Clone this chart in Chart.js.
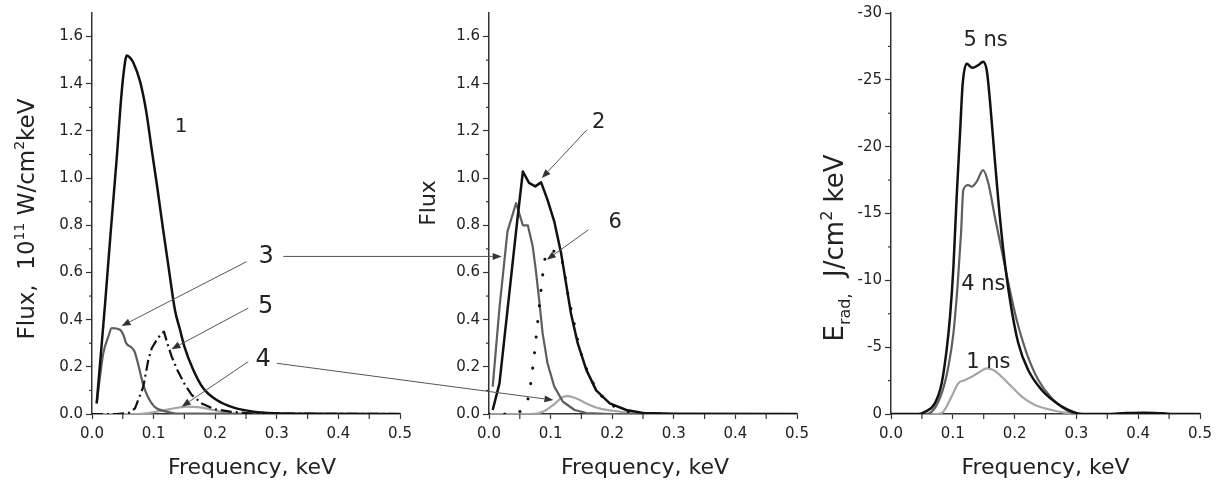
<!DOCTYPE html>
<html><head><meta charset="utf-8">
<script src="https://cdn.jsdelivr.net/npm/chart.js@4.4.1/dist/chart.umd.min.js"></script>
<style>
html,body{margin:0;padding:0;background:#fff;}
#wrap{position:relative;width:1218px;height:486px;overflow:hidden;background:#fff;}
#wrap canvas{position:absolute;top:0;}
</style></head><body><div id="wrap">
<canvas id="c1" width="425" height="486" style="left:0px"></canvas>
<canvas id="c2" width="417" height="486" style="left:405px"></canvas>
<canvas id="c3" width="408" height="486" style="left:810px"></canvas>
<canvas id="ov" width="1218" height="486" style="left:0px;pointer-events:none"></canvas>
</div>
<script>
// ---------- tick labels ----------
const xTicks = [0, 0.1, 0.2, 0.3, 0.4, 0.5];
const xMinor = [0.05, 0.15, 0.25, 0.35, 0.45];
const fluxTicks = [0, 0.2, 0.4, 0.6, 0.8, 1.0, 1.2, 1.4, 1.6];
const fluxMinor = [0.1, 0.3, 0.5, 0.7, 0.9, 1.1, 1.3, 1.5];
const eTicks = [0, -5, -10, -15, -20, -25, -30];
const eMinor = [-2.5, -7.5, -12.5, -17.5, -22.5, -27.5];

// ---------- panel 1 (Flux, 10^11 W/cm2 keV) ----------
const c1X = [0.0076, 0.021, 0.03, 0.04, 0.0476, 0.052, 0.0565, 0.062, 0.067, 0.078, 0.088, 0.097, 0.106, 0.115, 0.125, 0.1347, 0.1429, 0.150, 0.1645, 0.1807, 0.2024, 0.229, 0.262, 0.30, 0.35, 0.5];
const c1Y = [0.045, 0.46, 0.76, 1.08, 1.347, 1.46, 1.52, 1.51, 1.49, 1.41, 1.283, 1.12, 0.96, 0.79, 0.61, 0.44, 0.357, 0.286, 0.187, 0.109, 0.059, 0.028, 0.01, 0.003, 0.001, 0];
const c3X = [0.0076, 0.0184, 0.0265, 0.032, 0.0455, 0.051, 0.0555, 0.0636, 0.069, 0.076, 0.0825, 0.0906, 0.1015, 0.121, 0.136, 0.5];
const c3Y = [0.045, 0.258, 0.328, 0.364, 0.357, 0.335, 0.30, 0.283, 0.265, 0.20, 0.13, 0.073, 0.031, 0.01, 0.002, 0];
const c5X = [0, 0.04, 0.06, 0.0698, 0.0833, 0.0914, 0.097, 0.105, 0.113, 0.1169, 0.1222, 0.1294, 0.1385, 0.151, 0.1618, 0.178, 0.1997, 0.224, 0.26, 0.5];
const c5Y = [0, 0, 0.005, 0.024, 0.116, 0.229, 0.279, 0.314, 0.342, 0.349, 0.30, 0.243, 0.187, 0.123, 0.081, 0.045, 0.02, 0.01, 0.002, 0];
const c4X = [0, 0.075, 0.105, 0.1266, 0.1537, 0.1753, 0.197, 0.219, 0.25, 0.5];
const c4Y = [0, 0, 0.01, 0.021, 0.031, 0.028, 0.017, 0.004, 0, 0];

// ---------- panel 2 (Flux) ----------
const d2X = [0.006, 0.017, 0.03, 0.045, 0.055, 0.065, 0.075, 0.0846, 0.095, 0.106, 0.117, 0.125, 0.133, 0.144, 0.158, 0.174, 0.196, 0.223, 0.25, 0.3, 0.5];
const d2Y = [0.017, 0.13, 0.44, 0.80, 1.028, 0.98, 0.965, 0.982, 0.908, 0.816, 0.682, 0.555, 0.427, 0.30, 0.187, 0.10, 0.045, 0.017, 0.004, 0.001, 0];
const d3X = [0.006, 0.017, 0.030, 0.044, 0.055, 0.063, 0.071, 0.076, 0.082, 0.087, 0.095, 0.106, 0.12, 0.139, 0.158, 0.2, 0.5];
const d3Y = [0.116, 0.45, 0.774, 0.894, 0.80, 0.80, 0.71, 0.61, 0.47, 0.343, 0.215, 0.116, 0.052, 0.017, 0.004, 0, 0];
const d4X = [0, 0.06, 0.08, 0.093, 0.104, 0.12, 0.128, 0.141, 0.158, 0.179, 0.212, 0.23, 0.26, 0.5];
const d4Y = [0, 0, 0.003, 0.017, 0.038, 0.072, 0.076, 0.067, 0.045, 0.024, 0.01, 0.004, 0, 0];
const d6X = [0, 0.03, 0.05, 0.058, 0.065, 0.072, 0.0776, 0.083, 0.089, 0.094, 0.105, 0.115, 0.1225, 0.126, 0.137, 0.148, 0.168, 0.186, 0.21, 0.24, 0.3];
const d6Y = [0, 0, 0.01, 0.03, 0.083, 0.218, 0.352, 0.49, 0.625, 0.69, 0.69, 0.675, 0.604, 0.538, 0.40, 0.27, 0.137, 0.067, 0.024, 0.005, 0];

// ---------- panel 3 (E_rad, J/cm2 keV) ----------
const e5X = [0, 0.045, 0.055, 0.071, 0.082, 0.090, 0.0955, 0.101, 0.106, 0.1117, 0.116, 0.1225, 0.1316, 0.1413, 0.149, 0.155, 0.160, 0.1667, 0.1736, 0.1817, 0.1926, 0.206, 0.222, 0.2438, 0.265, 0.285, 0.31, 0.35, 0.38, 0.41, 0.44, 0.46, 0.5];
const e5Y = [0, 0, -0.17, -0.8, -2.3, -4.79, -7.28, -11.0, -16.0, -21.0, -24.7, -26.2, -25.9, -26.1, -26.36, -25.7, -23.5, -19.75, -16.0, -12.27, -8.53, -5.29, -3.29, -1.8, -0.92, -0.35, 0, 0, -0.08, -0.1, -0.05, 0, 0];
const e4X = [0, 0.055, 0.066, 0.082, 0.0928, 0.101, 0.108, 0.1133, 0.117, 0.125, 0.1306, 0.1387, 0.149, 0.1575, 0.168, 0.179, 0.19, 0.2034, 0.2196, 0.2384, 0.26, 0.28, 0.30, 0.5];
const e4Y = [0, 0, -0.17, -1.55, -3.54, -6.04, -9.78, -13.5, -16.76, -17.13, -17.0, -17.38, -18.25, -17.26, -14.76, -12.27, -9.78, -7.03, -4.54, -2.54, -1.17, -0.4, 0, 0];
const e1X = [0, 0.075, 0.0846, 0.098, 0.109, 0.12, 0.1306, 0.144, 0.155, 0.1655, 0.179, 0.1953, 0.2115, 0.233, 0.26, 0.28, 0.30, 0.5];
const e1Y = [0, 0, -0.17, -1.3, -2.3, -2.54, -2.79, -3.16, -3.42, -3.29, -2.79, -2.04, -1.3, -0.67, -0.3, -0.1, 0, 0];

// ---------- annotation labels (data coordinates) ----------
const p1Labels = ['1', '3', '5', '4'];
const p1LabelX = [0.1445, 0.2825, 0.282, 0.278];
const p1LabelY = [1.218, 0.666, 0.455, 0.229];
const p1LabelSize = [20, 24, 24, 24];
const p2Labels = ['2', '6'];
const p2LabelX = [0.178, 0.205];
const p2LabelY = [1.237, 0.813];
const p2LabelSize = [21, 21];
const p3Labels = ['5 ns', '4 ns', '1 ns'];
const p3LabelX = [0.153, 0.1495, 0.1575];
const p3LabelY = [-27.93, -9.65, -3.84];
const p3LabelSize = [21, 21, 21];

// ---------- arrows (panel index, data coordinates) ----------
const arrFromPanel = [0, 0, 0, 0, 0, 1, 1];
const arrFromX = [0.251, 0.3106, 0.2537, 0.2537, 0.300, 0.159, 0.1615];
const arrFromY = [0.646, 0.668, 0.449, 0.222, 0.215, 1.205, 0.781];
const arrToPanel = [0, 1, 0, 0, 1, 1, 1];
const arrToX = [0.048, 0.0206, 0.129, 0.1456, 0.1046, 0.0857, 0.0938];
const arrToY = [0.373, 0.668, 0.275, 0.031, 0.059, 1.0, 0.654];

const FONT = "'DejaVu Sans', Verdana, sans-serif";
const INK = '#222';
const pts = (xs, ys) => xs.map((x, i) => ({x: x, y: ys[i]}));

function ds(xs, ys, color, width, opts) {
  const o = opts || {};
  return {data: pts(xs, ys), borderColor: color, borderWidth: width, borderDash: o.dash || [],
    borderCapStyle: o.cap || 'butt', borderJoinStyle: 'round', pointRadius: 0, fill: false,
    tension: 0, cubicInterpolationMode: o.linear ? 'default' : 'monotone'};
}

function drawRich(ctx, segs, bx, cy, size) {
  const small = Math.round(size * 0.62);
  const widths = segs.map(s => { ctx.font = (s.sup || s.sub ? small : size) + 'px ' + FONT; return ctx.measureText(s.t).width; });
  const total = widths.reduce((a, b) => a + b, 0);
  ctx.save();
  ctx.translate(bx, cy);
  ctx.rotate(-Math.PI / 2);
  ctx.fillStyle = INK;
  ctx.textBaseline = 'alphabetic';
  ctx.textAlign = 'left';
  let x = -total / 2;
  segs.forEach((s, i) => {
    ctx.font = (s.sup || s.sub ? small : size) + 'px ' + FONT;
    const dy = s.sup ? -size * 0.42 : (s.sub ? size * 0.28 : 0);
    ctx.fillText(s.t, x, dy);
    x += widths[i];
  });
  ctx.restore();
}

function makePanel(id, cfg) {
  const decor = {
    id: 'decor',
    afterDraw(chart) {
      const ctx = chart.ctx, xs = chart.scales.x, ys = chart.scales.y, ca = chart.chartArea;
      ctx.save();
      ctx.strokeStyle = '#333';
      ctx.lineWidth = 1.2;
      xMinor.forEach(v => {
        const px = xs.getPixelForValue(v);
        ctx.beginPath(); ctx.moveTo(px, ca.bottom); ctx.lineTo(px, ca.bottom + 5); ctx.stroke();
      });
      cfg.yMinor.forEach(v => {
        const py = ys.getPixelForValue(v);
        ctx.beginPath(); ctx.moveTo(ca.left, py); ctx.lineTo(ca.left - 3, py); ctx.stroke();
      });
      ctx.fillStyle = INK;
      ctx.textAlign = 'center';
      ctx.textBaseline = 'middle';
      cfg.labels.forEach((t, i) => {
        ctx.font = cfg.labelSize[i] + 'px ' + FONT;
        ctx.fillText(t, xs.getPixelForValue(cfg.labelX[i]), ys.getPixelForValue(cfg.labelY[i]));
      });
      ctx.textBaseline = 'alphabetic';
      ctx.font = '22px ' + FONT;
      ctx.fillText('Frequency, keV', (ca.left + ca.right) / 2 + cfg.xTitleShift, 474);
      ctx.restore();
      drawRich(ctx, cfg.yTitle, cfg.yTitleX, cfg.yTitleY, cfg.yTitleSize);
    }
  };
  const tickFont = {family: FONT, size: 15};
  return new Chart(document.getElementById(id), {
    type: 'line',
    data: {datasets: cfg.datasets},
    options: {
      responsive: false, animation: false, events: [],
      layout: {padding: {left: 0, right: cfg.padRight, top: 13, bottom: 0}},
      plugins: {legend: {display: false}, tooltip: {enabled: false}},
      scales: {
        x: {
          type: 'linear', min: 0, max: 0.5,
          afterBuildTicks: a => { a.ticks = xTicks.map(v => ({value: v})); },
          afterFit: s => { s.height = 72; },
          grid: {drawOnChartArea: false, drawTicks: true, tickLength: 5, tickColor: '#333', tickWidth: 1.2},
          border: {display: true, color: '#333', width: 1.5},
          ticks: {font: tickFont, color: INK, padding: 6, maxRotation: 0, callback: v => Number(v).toFixed(1)}
        },
        y: {
          type: 'linear', min: cfg.yMin, max: cfg.yMax, reverse: cfg.reverse,
          afterBuildTicks: a => { a.ticks = cfg.yTicks.map(v => ({value: v})); },
          afterFit: s => { s.width = cfg.axisW; },
          grid: {drawOnChartArea: false, drawTicks: true, tickLength: 6, tickColor: '#333', tickWidth: 1.2},
          border: {display: true, color: '#333', width: 1.5},
          ticks: {font: tickFont, color: INK, padding: 3, callback: cfg.yFmt}
        }
      }
    },
    plugins: [decor]
  });
}

const BLACK = '#111', GRAY = '#5e5e5e', LIGHT = '#a6a6a6';

const ch1 = makePanel('c1', {
  datasets: [
    ds(c1X, c1Y, BLACK, 2.5),
    ds(c5X, c5Y, BLACK, 2.2, {dash: [11, 4, 2, 4], linear: true}),
    ds(c3X, c3Y, GRAY, 2.2),
    ds(c4X, c4Y, LIGHT, 2.2)
  ],
  yMin: 0, yMax: 1.7, reverse: false, yTicks: fluxTicks, yMinor: fluxMinor,
  yFmt: v => Number(v).toFixed(1), axisW: 92, padRight: 25, xTitleShift: 6,
  labels: p1Labels, labelX: p1LabelX, labelY: p1LabelY, labelSize: p1LabelSize,
  yTitle: [{t: 'Flux,  10'}, {t: '11', sup: true}, {t: ' W/cm'}, {t: '2', sup: true}, {t: 'keV'}],
  yTitleX: 34, yTitleY: 219, yTitleSize: 23
});

const ch2 = makePanel('c2', {
  datasets: [
    ds(d2X, d2Y, BLACK, 2.5, {linear: true}),
    ds(d6X, d6Y, BLACK, 3, {dash: [0.1, 15.5], cap: 'round'}),
    ds(d3X, d3Y, GRAY, 2.2, {linear: true}),
    ds(d4X, d4Y, LIGHT, 2.2)
  ],
  yMin: 0, yMax: 1.7, reverse: false, yTicks: fluxTicks, yMinor: fluxMinor,
  yFmt: v => Number(v).toFixed(1), axisW: 84, padRight: 25, xTitleShift: 2,
  labels: p2Labels, labelX: p2LabelX, labelY: p2LabelY, labelSize: p2LabelSize,
  yTitle: [{t: 'Flux'}],
  yTitleX: 30, yTitleY: 203, yTitleSize: 22
});

const ch3 = makePanel('c3', {
  datasets: [
    ds(e5X, e5Y, BLACK, 2.5),
    ds(e4X, e4Y, GRAY, 2.2),
    ds(e1X, e1Y, LIGHT, 2.2)
  ],
  yMin: -30, yMax: 0, reverse: true, yTicks: eTicks, yMinor: eMinor,
  yFmt: v => String(Math.round(v)), axisW: 81, padRight: 18, xTitleShift: 0,
  labels: p3Labels, labelX: p3LabelX, labelY: p3LabelY, labelSize: p3LabelSize,
  yTitle: [{t: 'E'}, {t: 'rad,', sub: true}, {t: '  J/cm'}, {t: '2', sup: true}, {t: ' keV'}],
  yTitleX: 33, yTitleY: 248, yTitleSize: 26
});

// ---------- cross-panel arrows on overlay ----------
const panels = [ch1, ch2, ch3];
const offsets = [0, 405, 810];
function toPage(p, x, y) {
  const c = panels[p];
  return [offsets[p] + c.scales.x.getPixelForValue(x), c.scales.y.getPixelForValue(y)];
}
const ov = document.getElementById('ov').getContext('2d');
ov.strokeStyle = '#555';
ov.fillStyle = '#333';
ov.lineWidth = 1;
arrFromX.forEach((_, i) => {
  const a = toPage(arrFromPanel[i], arrFromX[i], arrFromY[i]);
  const b = toPage(arrToPanel[i], arrToX[i], arrToY[i]);
  const ang = Math.atan2(b[1] - a[1], b[0] - a[0]);
  const L = 9, W = 3.5;
  const bx = b[0] - L * Math.cos(ang), by = b[1] - L * Math.sin(ang);
  ov.beginPath(); ov.moveTo(a[0], a[1]); ov.lineTo(bx, by); ov.stroke();
  ov.beginPath();
  ov.moveTo(b[0], b[1]);
  ov.lineTo(bx + W * Math.sin(ang), by - W * Math.cos(ang));
  ov.lineTo(bx - W * Math.sin(ang), by + W * Math.cos(ang));
  ov.closePath(); ov.fill();
});
</script>
</body></html>
